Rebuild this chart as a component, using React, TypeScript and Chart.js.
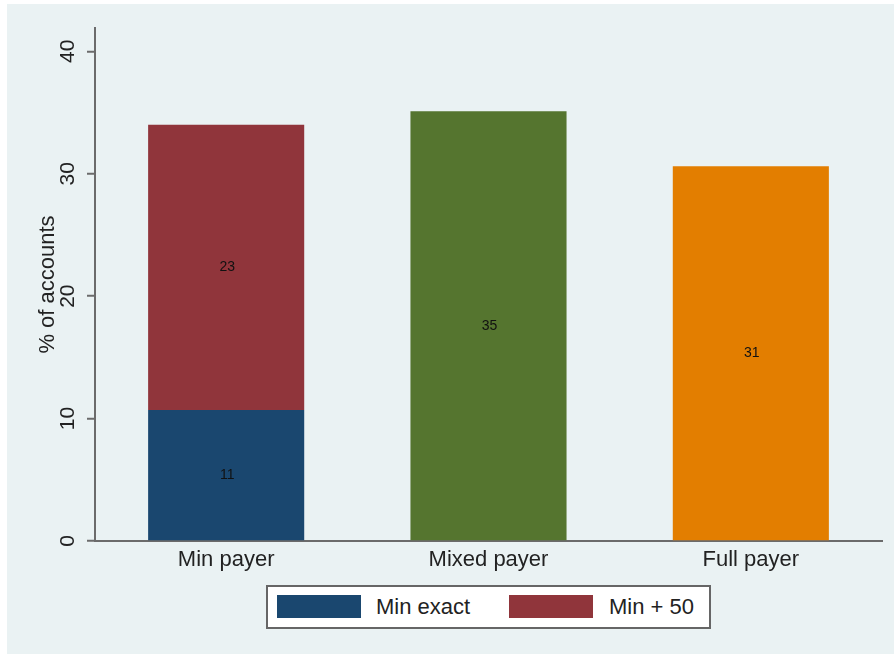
import React, { useEffect, useRef } from "react";
import { Chart, registerables } from "chart.js";

Chart.register(...registerables);

const categories = ["Min payer", "Mixed payer", "Full payer"];
const minExact = [10.7, null, null];
const minPlus50 = [23.3, null, null];
const mixedPayer = [null, 35.1, null];
const fullPayer = [null, null, 30.6];
const yTicks = [0, 10, 20, 30, 40];
const yMax = 41.9;
const legendLabels = ["Min exact", "Min + 50"];
const legendColors = ["#1A476F", "#90353B"];

const FONT = '"Liberation Sans", Arial, Helvetica, sans-serif';

const valueLabels = {
  id: "valueLabels",
  afterDatasetsDraw(chart: any) {
    const ctx = chart.ctx;
    chart.data.datasets.forEach((ds: any, i: number) => {
      const meta = chart.getDatasetMeta(i);
      meta.data.forEach((bar: any, j: number) => {
        const v = ds.data[j];
        if (v == null) return;
        const { x, y, base } = bar.getProps(["x", "y", "base"], true);
        ctx.save();
        ctx.font = `14px ${FONT}`;
        ctx.fillStyle = "#111";
        ctx.textAlign = "center";
        ctx.textBaseline = "middle";
        ctx.fillText(String(Math.round(v)), x + 1, (y + base) / 2);
        ctx.restore();
      });
    });
  },
};

export default function App() {
  const ref = useRef<HTMLCanvasElement>(null);

  useEffect(() => {
    if (!ref.current) return;
    const chart = new Chart(ref.current, {
      type: "bar",
      data: {
        labels: categories,
        datasets: [
          { label: legendLabels[0], data: minExact, backgroundColor: legendColors[0] },
          { label: legendLabels[1], data: minPlus50, backgroundColor: legendColors[1] },
          { label: "Mixed payer", data: mixedPayer, backgroundColor: "#55752F" },
          { label: "Full payer", data: fullPayer, backgroundColor: "#E37E00" },
        ] as any,
      },
      options: {
        responsive: false,
        animation: false,
        events: [],
        layout: { padding: { top: 24, right: 12, left: 0, bottom: 73 } },
        plugins: { legend: { display: false }, tooltip: { enabled: false } },
        datasets: { bar: { categoryPercentage: 0.595, barPercentage: 1, borderWidth: 0 } } as any,
        scales: {
          x: {
            stacked: true,
            offset: true,
            grid: { display: false, drawTicks: false },
            border: { display: true, color: "#6b6b6b", width: 2 },
            ticks: { color: "#222", padding: 6, font: { family: FONT, size: 22 } },
            afterFit: (s: any) => { s.height = 40; },
          },
          y: {
            stacked: true,
            min: 0,
            max: yMax,
            grid: { color: "#EAF2F3", lineWidth: 1.5, tickColor: "#6b6b6b", tickWidth: 2, tickLength: 8 },
            border: { display: true, color: "#6b6b6b", width: 2 },
            ticks: {
              color: "#222",
              minRotation: 90,
              maxRotation: 90,
              crossAlign: "center",
              padding: 7,
              font: { family: FONT, size: 21 },
            },
            afterBuildTicks: (s: any) => { s.ticks = yTicks.map((v) => ({ value: v })); },
            afterFit: (s: any) => { s.width = 88; },
            title: {
              display: true,
              text: "% of accounts",
              color: "#222",
              padding: { top: 28, bottom: 0 },
              font: { family: FONT, size: 22 },
            },
          },
        } as any,
      },
      plugins: [valueLabels],
    });
    return () => chart.destroy();
  }, []);

  return (
    <div style={{ position: "absolute", left: 0, top: 0, width: 894, height: 654, background: "#fff", overflow: "hidden" }}>
      <div style={{ position: "absolute", left: 7, top: 4, width: 887, height: 650, background: "#EAF2F3" }}>
        <canvas ref={ref} width={887} height={650} style={{ display: "block", width: 887, height: 650 }} />
      </div>
      <div
        style={{
          position: "absolute",
          left: 266,
          top: 585,
          width: 445,
          height: 44,
          boxSizing: "border-box",
          border: "2px solid #666",
          background: "#fff",
          fontFamily: FONT,
          fontSize: 22,
          color: "#222",
        }}
      >
        {legendLabels.map((lab, i) => (
          <React.Fragment key={lab}>
            <div
              style={{
                position: "absolute",
                left: 9 + i * 232,
                top: 8,
                width: 84,
                height: 23,
                background: legendColors[i],
              }}
            />
            <div style={{ position: "absolute", left: 108 + i * 233, top: 0, height: 40, lineHeight: "40px", whiteSpace: "nowrap" }}>
              {lab}
            </div>
          </React.Fragment>
        ))}
      </div>
    </div>
  );
}
